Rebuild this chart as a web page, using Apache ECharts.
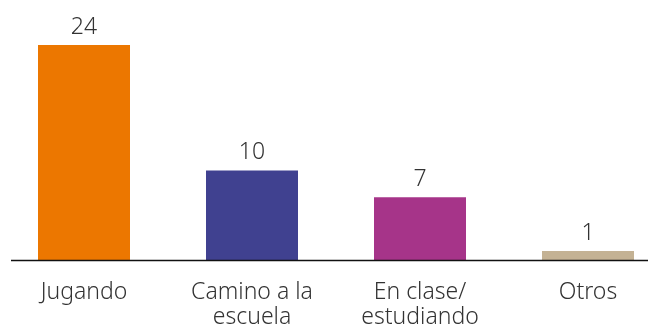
<!DOCTYPE html>
<html>
<head>
<meta charset="utf-8">
<script src="https://cdn.jsdelivr.net/npm/echarts@6/dist/echarts.min.js"></script>
<style>
  html, body { margin: 0; padding: 0; background: #fff; }
  #chart { width: 648px; height: 327px; }
</style>
</head>
<body>
<div id="chart"></div>
<script>
const categories = ['Jugando', 'Camino a la\nescuela', 'En clase/\nestudiando', 'Otros'];
const values = [24, 10, 7, 1];
const barColors = ['#EC7700', '#404190', '#A63489', '#C4B294'];

const chart = echarts.init(document.getElementById('chart'));
const font = '"Noto Sans", Lato, sans-serif';

chart.setOption({
  animation: false,
  grid: { left: 0, right: -24, top: 45, bottom: 67, containLabel: false, outerBoundsMode: 'none' },
  xAxis: {
    type: 'category',
    data: categories,
    axisLine: { show: false },
    axisTick: { show: false },
    axisLabel: {
      color: '#333',
      fontFamily: font,
      fontSize: 23,
      fontWeight: 300,
      lineHeight: 25,
      margin: 20
    }
  },
  yAxis: {
    type: 'value',
    min: 0,
    max: 24,
    show: false,
    splitLine: { show: false }
  },
  series: [{
    type: 'bar',
    barWidth: 92,
    data: values.map((v, i) => ({ value: v, itemStyle: { color: barColors[i] } })),
    label: {
      show: true,
      position: 'top',
      distance: 6,
      color: '#333',
      fontFamily: font,
      fontSize: 23,
      fontWeight: 300
    }
  }],
  graphic: [{
    type: 'line',
    shape: { x1: 11, y1: 260.5, x2: 648, y2: 260.5 },
    style: { stroke: '#111', lineWidth: 1.5 },
    z: 10
  }]
});
</script>
</body>
</html>
